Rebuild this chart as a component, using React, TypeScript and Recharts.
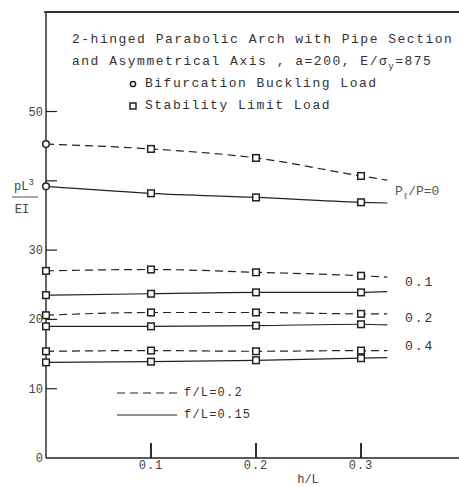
import React from 'react';
import { LineChart, Line, XAxis, YAxis, ReferenceLine } from 'recharts';

// h/L stations; the last one is only where the curves stop (no marker)
const hL = [0, 0.1, 0.2, 0.3, 0.325];

// f/L = 0.2 (dashed)
const dashP0 = [45.3, 44.6, 43.3, 40.7, 40.1];
const dashP01 = [27.0, 27.2, 26.8, 26.3, 26.1];
const dashP02 = [20.6, 21.0, 21.0, 20.8, 20.8];
const dashP04 = [15.4, 15.5, 15.4, 15.5, 15.5];

// f/L = 0.15 (solid)
const solidP0 = [39.2, 38.2, 37.6, 36.9, 36.8];
const solidP01 = [23.5, 23.7, 23.9, 23.9, 24.0];
const solidP02 = [19.0, 19.0, 19.1, 19.3, 19.2];
const solidP04 = [13.8, 13.9, 14.1, 14.4, 14.5];

const yTicks = [0, 10, 20, 30, 40, 50];
const xTicks = [0.1, 0.2, 0.3];

const X_MAX = 0.3933;
const Y_MAX = 64.36;

// plot frame inside the 459x487 surface
const W = 459;
const H = 487;
const PLOT_LEFT = 46;
const PLOT_TOP = 12;
const PLOT_BOTTOM = 458;
const xPos = (t: number) => PLOT_LEFT + (t / X_MAX) * (W - PLOT_LEFT);

const ink = '#222';
const mono = '"Liberation Mono", "DejaVu Sans Mono", monospace';

const series = [
  { key: 'd0', values: dashP0, dashed: true, bif: true },
  { key: 's0', values: solidP0, dashed: false, bif: true },
  { key: 'd1', values: dashP01, dashed: true, bif: false },
  { key: 's1', values: solidP01, dashed: false, bif: false },
  { key: 'd2', values: dashP02, dashed: true, bif: false },
  { key: 's2', values: solidP02, dashed: false, bif: false },
  { key: 'd4', values: dashP04, dashed: true, bif: false },
  { key: 's4', values: solidP04, dashed: false, bif: false },
];

const rows = hL.map((h, i) => {
  const r: Record<string, number> = { h };
  series.forEach((s) => { r[s.key] = s.values[i]; });
  return r;
});

// circle = bifurcation buckling, square = stability limit
const makeDot = (name: string, bif: boolean) => (props: any) => {
  const { cx, cy, index } = props;
  const k = `${name}-${index}`;
  if (index === hL.length - 1) return <g key={k} />;
  if (bif && index === 0) {
    return <circle key={k} cx={cx} cy={cy} r={3.3} fill="#fff" stroke={ink} strokeWidth={1.5} />;
  }
  return <rect key={k} x={cx - 3.3} y={cy - 3.3} width={6.6} height={6.6} fill="#fff" stroke={ink} strokeWidth={1.5} />;
};

const YTick = (props: any) => {
  const { x, y, payload } = props;
  const v = payload.value;
  return (
    <g>
      {v > 0 && <line x1={x} y1={y} x2={x + 11} y2={y} stroke={ink} strokeWidth={1.2} />}
      {v !== 40 && (
        <text x={x - 3} y={y + 4} textAnchor="end" fontFamily={mono} fontSize={12} fill="#444">{v}</text>
      )}
    </g>
  );
};

// label sits below the axis; the tick mark rises from the axis into the plot
const XTick = (props: any) => {
  const { x, y, payload } = props;
  return (
    <g>
      <rect x={x - 0.75} y={y - 23} width={1.5} height={15} fill={ink} />
      <text x={x} y={y + 3} textAnchor="middle" fontFamily={mono} fontSize={12} letterSpacing={1} fill="#444">
        {payload.value.toFixed(1)}
      </text>
    </g>
  );
};

const txt: React.CSSProperties = {
  position: 'absolute',
  fontFamily: mono,
  color: '#333',
  whiteSpace: 'pre',
  lineHeight: 1,
};

export default function App() {
  return (
    <div style={{ position: 'absolute', left: 0, top: 0, width: W, height: H, background: '#fff' }}>
      {/* heading and marker key */}
      <div style={{ ...txt, left: 72, top: 33, fontSize: 13, letterSpacing: 1.5 }}>
        2-hinged Parabolic Arch with Pipe Section
      </div>
      <div style={{ ...txt, left: 72, top: 55, fontSize: 13, letterSpacing: 1.5 }}>
        and Asymmetrical Axis , a=200, E/σ<sub style={{ fontSize: 9 }}>y</sub>=875
      </div>
      <svg style={{ position: 'absolute', left: 0, top: 0 }} width={W} height={H}>
        <circle cx={133} cy={84} r={2.6} fill="#fff" stroke={ink} strokeWidth={1.5} />
        <rect x={130} y={103} width={6} height={6} fill="#fff" stroke={ink} strokeWidth={1.5} />
        <line x1={117} y1={393} x2={177} y2={393} stroke={ink} strokeWidth={1.2} strokeDasharray="8 5" />
        <line x1={117} y1={415} x2={177} y2={415} stroke={ink} strokeWidth={1.2} />
        <text x={308} y={483} textAnchor="middle" fontFamily={mono} fontSize={12} fill="#444">h/L</text>
        <g fontFamily={mono} fill="#444">
          <text x={24} y={190} textAnchor="middle" fontSize={12}>
            pL<tspan dy={-5} fontSize={9}>3</tspan>
          </text>
          <line x1={12} y1={197} x2={38} y2={197} stroke="#555" strokeWidth={1} />
          <text x={22} y={213} textAnchor="middle" fontSize={12}>EI</text>
        </g>
      </svg>
      <div style={{ ...txt, left: 145, top: 77, fontSize: 13, letterSpacing: 1.5 }}>Bifurcation Buckling Load</div>
      <div style={{ ...txt, left: 145, top: 99, fontSize: 13, letterSpacing: 1.5 }}>Stability Limit Load</div>

      {/* bottom line-style key */}
      <div style={{ ...txt, left: 184, top: 387, fontSize: 12, letterSpacing: 1.2 }}>f/L=0.2</div>
      <div style={{ ...txt, left: 184, top: 409, fontSize: 12, letterSpacing: 1.2 }}>f/L=0.15</div>

      {/* load ratio for each pair of curves */}
      <div style={{ ...txt, left: 395, top: 185, fontSize: 13, color: '#555' }}>
        P<sub style={{ fontSize: 9 }}>ℓ</sub>/P=0
      </div>
      <div style={{ ...txt, left: 405, top: 276, fontSize: 13, letterSpacing: 2 }}>0.1</div>
      <div style={{ ...txt, left: 405, top: 312, fontSize: 13, letterSpacing: 2 }}>0.2</div>
      <div style={{ ...txt, left: 405, top: 340, fontSize: 13, letterSpacing: 2 }}>0.4</div>

      <div style={{ position: 'absolute', left: 0, top: 0 }}>
        <LineChart width={W} height={H} data={rows} margin={{ top: PLOT_TOP, right: 0, left: 0, bottom: 0 }}>
          <XAxis
            dataKey="h"
            type="number"
            domain={[0, X_MAX]}
            ticks={xTicks}
            height={H - PLOT_BOTTOM}
            tickLine={{ stroke: 'none' }}
            tick={<XTick />}
            axisLine={{ stroke: ink, strokeWidth: 1.3 }}
          />
          <YAxis
            type="number"
            domain={[0, Y_MAX]}
            ticks={yTicks}
            width={PLOT_LEFT}
            tickSize={0}
            tickMargin={0}
            tickLine={false}
            tick={<YTick />}
            axisLine={{ stroke: ink, strokeWidth: 1.4 }}
          />
          {/* frame top */}
          <ReferenceLine y={Y_MAX} stroke={ink} strokeWidth={1.5} />
          {series.map((s) => (
            <Line
              key={s.key}
              dataKey={s.key}
              type="monotone"
              stroke={ink}
              strokeWidth={1.2}
              strokeDasharray={s.dashed ? '8 5' : undefined}
              dot={makeDot(s.key, s.bif)}
              activeDot={false}
              isAnimationActive={false}
            />
          ))}
        </LineChart>
      </div>

      {/* frame top and h/L tick marks as filled bars, above the chart layer */}
      <svg style={{ position: 'absolute', left: 0, top: 0, zIndex: 2, pointerEvents: 'none' }} width={W} height={H}>
        <rect x={PLOT_LEFT - 2} y={PLOT_TOP - 0.75} width={W - PLOT_LEFT + 2} height={1.5} fill={ink} />
        {xTicks.map((t) => (
          <rect key={t} x={xPos(t) - 0.75} y={PLOT_BOTTOM - 15} width={1.5} height={15} fill={ink} />
        ))}
      </svg>
    </div>
  );
}
